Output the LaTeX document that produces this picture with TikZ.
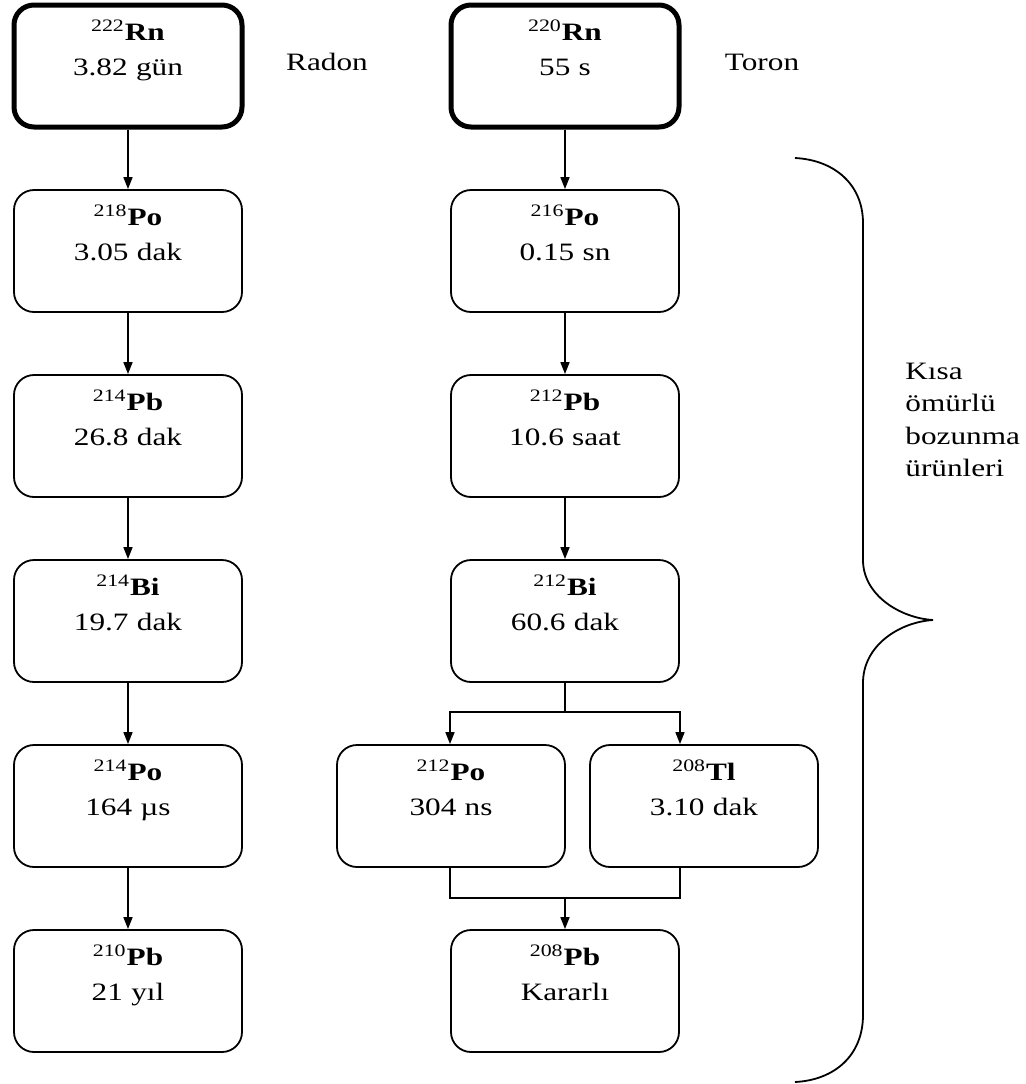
\documentclass[tikz,border=0pt]{standalone}
\usepackage{fontspec}
\setmainfont{Liberation Serif}[FakeStretch=1.25]
\usetikzlibrary{arrows.meta}

\newcommand{\nuc}[2]{\textsuperscript{#1}\textbf{#2}}

\tikzset{
  decay/.style={draw, rounded corners=10pt, line width=0.9pt,
    inner xsep=2pt, inner ysep=3pt, text width=110pt, align=center,
    text height=14.5pt, text depth=40.5pt,
    font=\fontsize{12.5pt}{17.5pt}\selectfont},
  parent/.style={decay, line width=2.5pt},
  chain/.style={->, line width=0.8pt},
  tag/.style={font=\fontsize{12.5pt}{16.25pt}\selectfont},
}

\begin{document}
\begin{tikzpicture}[x=0.5pt, y=-0.5pt, >={Triangle[length=6pt,width=4.5pt]}]
\useasboundingbox (0,0) rectangle (1025,1084);

% radon series
\node[parent] (rn222) at (128,66)  {\nuc{222}{Rn}\\3.82 gün};
\node[decay]  (po218) at (128,251) {\nuc{218}{Po}\\3.05 dak};
\node[decay]  (pb214) at (128,436) {\nuc{214}{Pb}\\26.8 dak};
\node[decay]  (bi214) at (128,621) {\nuc{214}{Bi}\\19.7 dak};
\node[decay]  (po214) at (128,806) {\nuc{214}{Po}\\164 µs};
\node[decay]  (pb210) at (128,991) {\nuc{210}{Pb}\\21 yıl};

% thoron series
\node[parent] (rn220) at (565,66)  {\nuc{220}{Rn}\\55 s};
\node[decay]  (po216) at (565,251) {\nuc{216}{Po}\\0.15 sn};
\node[decay]  (pb212) at (565,436) {\nuc{212}{Pb}\\10.6 saat};
\node[decay]  (bi212) at (565,621) {\nuc{212}{Bi}\\60.6 dak};
\node[decay]  (po212) at (451,806) {\nuc{212}{Po}\\304 ns};
\node[decay]  (tl208) at (704,806) {\nuc{208}{Tl}\\3.10 dak};
\node[decay]  (pb208) at (565,991) {\nuc{208}{Pb}\\Kararlı};

\node[tag, anchor=base] (radon) at (327,70) {Radon};
\node[tag, anchor=base] (toron) at (762,70) {Toron};

\foreach \a/\b in {rn222/po218, po218/pb214, pb214/bi214, bi214/po214,
                   po214/pb210, rn220/po216, po216/pb212, pb212/bi212}{
    \draw[chain] (\a) -- (\b);
}

% branching of 212Bi
\coordinate (sl) at (450,712);
\coordinate (sr) at (680,712);
\draw[chain] (bi212.south) |- (sl) -- (sl |- po212.north);
\draw[chain] (bi212.south) |- (sr) -- (sr |- tl208.north);

\coordinate (ml) at (450,898);
\coordinate (mr) at (680,898);
\draw[line width=0.8pt] (po212.south -| ml) -- (ml) -- (mr) -- (tl208.south -| mr);
\draw[chain] (pb208.north |- ml) -- (pb208.north);

% brace
\draw[line width=0.9pt] (795,158) .. controls (835,160) and (863,185) .. (863,223)
    -- (863,560) .. controls (863,595) and (900,618) .. (933,620)
    .. controls (900,622) and (863,645) .. (863,683)
    -- (863,1015) .. controls (863,1055) and (835,1080) .. (795,1082);

\node[tag, anchor=base west, text width=60pt, align=left, inner sep=0pt]
    (kisa) at (905,379) {Kısa\\ömürlü\\bozunma\\ürünleri};
\end{tikzpicture}
\end{document}
